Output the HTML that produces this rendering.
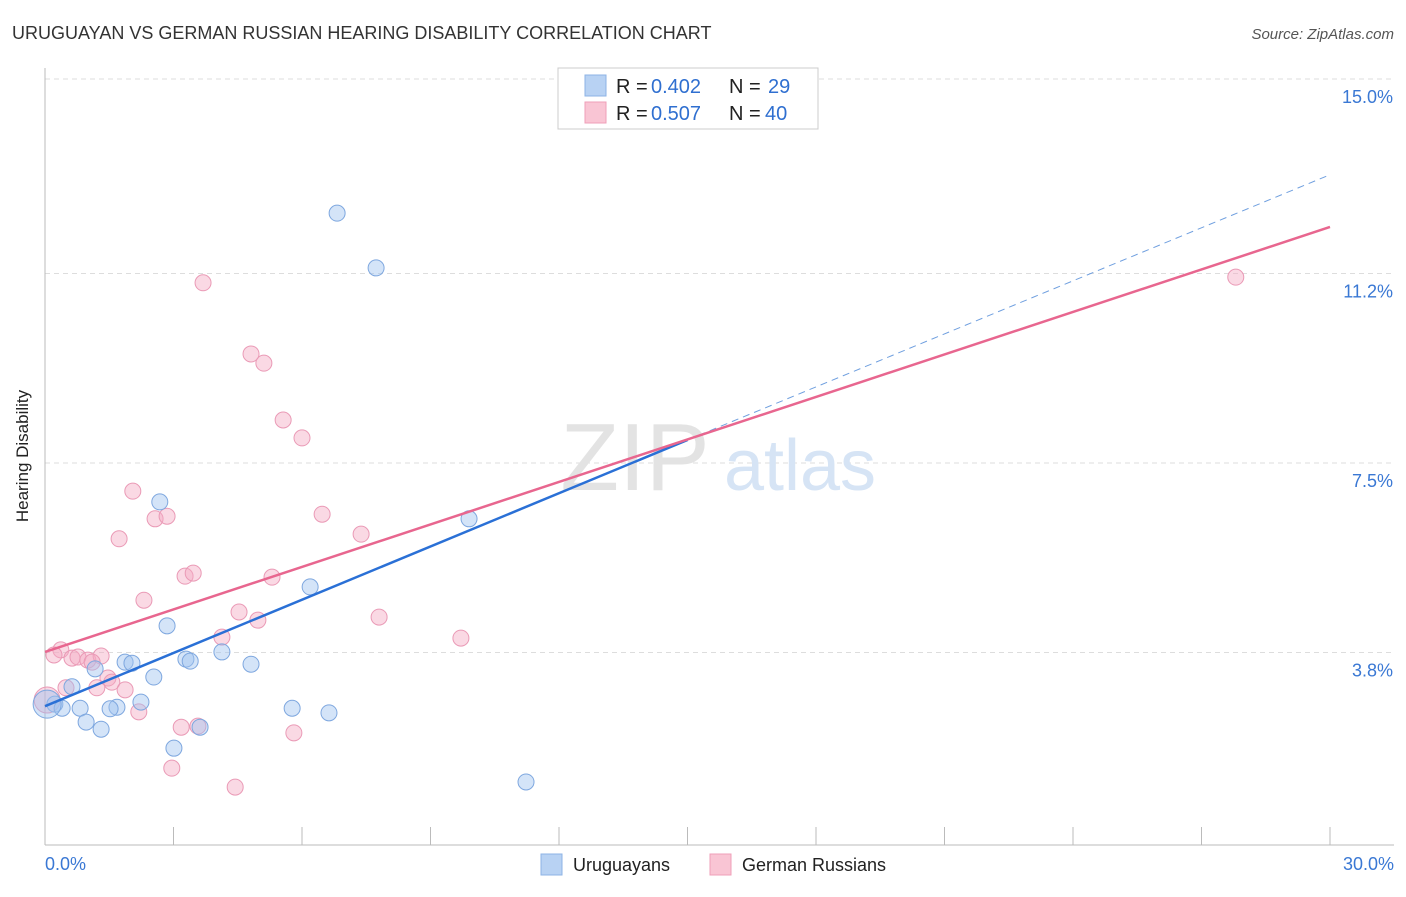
<!DOCTYPE html>
<html><head><meta charset="utf-8"><style>
body{margin:0;background:#fff;font-family:"Liberation Sans",sans-serif;}
svg text{font-family:"Liberation Sans",sans-serif;}
</style></head><body>
<svg id="chart" width="1406" height="892" xmlns="http://www.w3.org/2000/svg">
<text x="12" y="39" font-size="18" fill="#333">URUGUAYAN VS GERMAN RUSSIAN HEARING DISABILITY CORRELATION CHART</text>
<text x="1394" y="39" font-size="15" fill="#555" font-style="italic" text-anchor="end">Source: ZipAtlas.com</text>
<text x="28" y="456" font-size="17" fill="#222" transform="rotate(-90 28 456)" text-anchor="middle">Hearing Disability</text>
<g id="grid"></g>
<text x="635" y="490" font-size="96" fill="#e3e3e3" font-family="Liberation Serif" text-anchor="middle">ZIP</text>
<text x="800" y="490" font-size="72" fill="#d6e4f5" text-anchor="middle">atlas</text>
<g id="marks"></g>
<g id="lines"></g>
<g>
<rect x="558" y="68" width="260" height="61" fill="#fff" stroke="#ccc"/>
<rect x="585" y="75" width="21" height="21" fill="#b8d2f3" stroke="#8db3e6"/>
<rect x="585" y="102" width="21" height="21" fill="#f9c5d4" stroke="#ef9fb8"/>
<text x="616" y="93" font-size="20" fill="#222">R =</text>
<text x="651" y="93" font-size="20" fill="#2f6fd0">0.402</text>
<text x="729" y="93" font-size="20" fill="#222">N =</text>
<text x="768" y="93" font-size="20" fill="#2f6fd0">29</text>
<text x="616" y="120" font-size="20" fill="#222">R =</text>
<text x="651" y="120" font-size="20" fill="#2f6fd0">0.507</text>
<text x="729" y="120" font-size="20" fill="#222">N =</text>
<text x="765" y="120" font-size="20" fill="#2f6fd0">40</text>
</g>
<g>
<rect x="541" y="854" width="21" height="21" fill="#b8d2f3" stroke="#8db3e6"/>
<text x="573" y="871" font-size="18" fill="#222">Uruguayans</text>
<rect x="710" y="854" width="21" height="21" fill="#f9c5d4" stroke="#ef9fb8"/>
<text x="742" y="871" font-size="18" fill="#222">German Russians</text>
</g>
</svg>
<script>
const yTicks=[15.0,11.2,7.5,3.8];
const yTickLabels=["15.0%","11.2%","7.5%","3.8%"];
const xTickLabels=["0.0%","30.0%"];
const blueX=[6.82,7.73,2.68,9.90,6.19,2.85,4.13,3.29,3.39,1.87,2.03,4.81,1.17,2.54,0.63,2.24,0.23,0.40,0.82,1.68,1.52,0.96,1.31,3.62,5.77,6.63,3.01,11.23,0.05];
const blueY=[12.38,11.31,6.74,6.41,5.08,4.32,3.81,3.67,3.63,3.61,3.59,3.57,3.48,3.32,3.13,2.83,2.79,2.71,2.71,2.73,2.70,2.44,2.30,2.34,2.71,2.62,1.93,1.27,2.79];
const pinkX=[3.69,4.81,5.11,5.56,6.00,2.05,2.57,2.85,6.47,1.73,7.38,3.27,3.46,5.30,2.31,4.53,4.97,7.80,4.13,9.71,0.37,0.21,0.63,0.77,1.00,1.31,1.10,1.47,1.56,1.21,1.87,0.49,2.19,3.18,3.57,5.81,2.96,4.44,27.80,0.05];
const pinkY=[11.02,9.63,9.45,8.34,7.99,6.95,6.41,6.46,6.50,6.02,6.11,5.29,5.35,5.27,4.82,4.59,4.43,4.49,4.10,4.08,3.85,3.75,3.69,3.71,3.65,3.73,3.61,3.30,3.22,3.11,3.07,3.11,2.64,2.34,2.36,2.23,1.54,1.17,11.13,2.87];
const blueLine=[2.75,7.95,13.13];
const pinkLine=[3.81,12.11];
const NS="http://www.w3.org/2000/svg";
const sx=v=>45+v/30*1285;
const sy=v=>79+(15-v)/3.75*192;
function mk(tag,attrs,parent){const e=document.createElementNS(NS,tag);for(const k in attrs)e.setAttribute(k,attrs[k]);parent.appendChild(e);return e;}
const grid=document.getElementById('grid');
yTicks.forEach((t,i)=>{
 const l=mk('line',{x1:45,x2:1394,y1:sy(t),y2:sy(t),stroke:'#ddd','stroke-dasharray':'5,4'},grid);
 
 
 const tx=mk('text',{x:1393,y:sy(t)+24,'font-size':18,fill:'#3a78d4','text-anchor':'end'},grid);
 tx.textContent=yTickLabels[i];
 
 
});
const ax=mk('line',{x1:45,x2:1394,y1:845,y2:845,stroke:'#bbb'},grid);


const ay=mk('line',{x1:45,x2:45,y1:68,y2:845,stroke:'#bbb'},grid);


for(let i=1;i<=10;i++){const t=mk('line',{x1:sx(i*3),x2:sx(i*3),y1:827,y2:845,stroke:'#bbb'},grid);
 
 }
[[0,'start',45],[30,'end',1394]].forEach((d,i)=>{const tx=mk('text',{x:d[2],y:870,'font-size':18,fill:'#3a78d4','text-anchor':d[1]},grid);tx.textContent=xTickLabels[i];
 
 });
const marks=document.getElementById('marks');
pinkX.forEach((x,i)=>{const c=mk('circle',{cx:sx(x),cy:sy(pinkY[i]),r:i==pinkX.length-1?13:8,fill:'rgba(244,170,195,0.45)',stroke:'#ea9ab6','stroke-width':1},marks);
 
 });
blueX.forEach((x,i)=>{const c=mk('circle',{cx:sx(x),cy:sy(blueY[i]),r:i==blueX.length-1?14:8,fill:'rgba(160,195,240,0.45)',stroke:'#7ea7df','stroke-width':1},marks);
 
 });
const lines=document.getElementById('lines');
const b1=mk('line',{x1:sx(0),y1:sy(blueLine[0]),x2:sx(15),y2:sy(blueLine[1]),stroke:'#2a70d6','stroke-width':2.5},lines);


const b2=mk('line',{x1:sx(15),y1:sy(blueLine[1]),x2:sx(30),y2:sy(blueLine[2]),stroke:'#6f9fdf','stroke-width':1,'stroke-dasharray':'7,5'},lines);


const p1=mk('line',{x1:sx(0),y1:sy(pinkLine[0]),x2:sx(30),y2:sy(pinkLine[1]),stroke:'#e8668f','stroke-width':2.5},lines);


</script>
</body></html>
